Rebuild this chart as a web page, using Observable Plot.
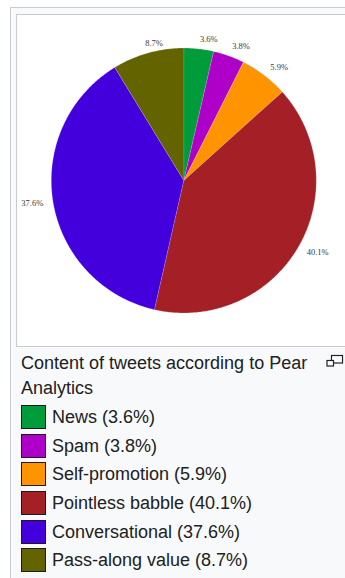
<!DOCTYPE html>
<html><head><meta charset="utf-8">
<script src="https://cdn.jsdelivr.net/npm/d3@7"></script>
<script src="https://cdn.jsdelivr.net/npm/@observablehq/plot@0.6"></script>
<style>
html,body{margin:0;padding:0;background:#fff;width:345px;height:578px;overflow:hidden;font-family:"Liberation Sans",Arial,sans-serif;}
#outer{position:absolute;left:10px;top:7px;width:400px;height:620px;border:1px solid #c8ccd1;background:#f8f9fa;box-sizing:border-box}
#inner{position:absolute;left:16px;top:14px;width:400px;height:333px;border:1px solid #c8ccd1;background:#fff;box-sizing:border-box}
#chart{position:absolute;left:17px;top:15px}
#caption{position:absolute;left:21px;top:351px;width:300px;font-size:18px;line-height:25px;color:#202122}
#icon{position:absolute;left:0;top:0}
#legend{position:absolute;left:21px;top:405px;font-size:18px;color:#202122}
.row{height:28.7px;display:flex;align-items:flex-start}
.sw{width:25px;height:24px;box-sizing:border-box;border:1.5px solid #1b1b1b;margin-right:6px;flex:none}
.lt{line-height:24px;white-space:nowrap}
</style></head>
<body>
<div id="outer"></div>
<div id="inner"></div>
<div id="chart"></div>
<div id="caption"></div>
<svg id="icon" width="345" height="578" style="pointer-events:none">
  <rect x="331.5" y="355.5" width="11" height="7.5" fill="#fff" stroke="#202122" stroke-width="1.2"/>
  <rect x="327" y="360.5" width="6.5" height="5.5" fill="#fff" stroke="#202122" stroke-width="1.2"/>
</svg>
<div id="legend"></div>
<script>
const title = "Content of tweets according to Pear Analytics";
const names = ["News","Spam","Self-promotion","Pointless babble","Conversational","Pass-along value"];
const shares = [3.6,3.8,5.9,40.1,37.6,8.7];
const colors = ["#009b3a","#ae00c8","#ff9300","#a51f27","#4300dc","#636300"];
const labels = ["3.6%","3.8%","5.9%","40.1%","37.6%","8.7%"];

const rows = names.map((n,i)=>({name:n, value:shares[i], label:labels[i]}));
const arcs = d3.pie().sort(null).value(d=>d.value)(rows);

// polygon outline of each slice (geometry sampling along the arc)
const pts = [];
for (const a of arcs) {
  pts.push({name:a.data.name, x:0, y:0});
  const n = Math.max(2, Math.ceil((a.endAngle-a.startAngle)/0.01));
  for (let k=0;k<=n;k++){
    const t = a.startAngle + (a.endAngle-a.startAngle)*k/n;
    pts.push({name:a.data.name, x:Math.sin(t), y:Math.cos(t)});
  }
}
const lab = arcs.map(a=>{
  const m=(a.startAngle+a.endAngle)/2;
  return {label:a.data.label, x:1.075*Math.sin(m), y:1.075*Math.cos(m), left:Math.sin(m)<-0.6};
});

const cx=166.3, cy=165, R=132.5;
const chart = Plot.plot({
  width:328, height:330, margin:0,
  style:{background:"transparent"},
  x:{domain:[-1,1], range:[cx-R,cx+R], axis:null},
  y:{domain:[-1,1], range:[cy+R,cy-R], axis:null},
  color:{domain:names, range:colors},
  marks:[
    Plot.line(pts,{x:"x",y:"y",z:"name",fill:"name",stroke:"#fff",strokeWidth:0.5,strokeOpacity:0.4}),
    Plot.text(lab.filter(d=>!d.left),{x:"x",y:"y",text:"label",textAnchor:"start",fontFamily:"Liberation Serif",fontSize:8.5,fill:"#3a3a3a"}),
    Plot.text(lab.filter(d=>d.left),{x:"x",y:"y",text:"label",textAnchor:"end",fontFamily:"Liberation Serif",fontSize:8.5,fill:"#3a3a3a"})
  ]
});
document.getElementById("chart").appendChild(chart);
document.getElementById("caption").textContent = title;
const lg = document.getElementById("legend");
names.forEach((n,i)=>{
  const r=document.createElement("div"); r.className="row";
  const s=document.createElement("div"); s.className="sw"; s.style.background=colors[i];
  const t=document.createElement("span"); t.className="lt"; t.textContent=`${n} (${labels[i]})`;
  r.appendChild(s); r.appendChild(t); lg.appendChild(r);
});
</script>
</body></html>
